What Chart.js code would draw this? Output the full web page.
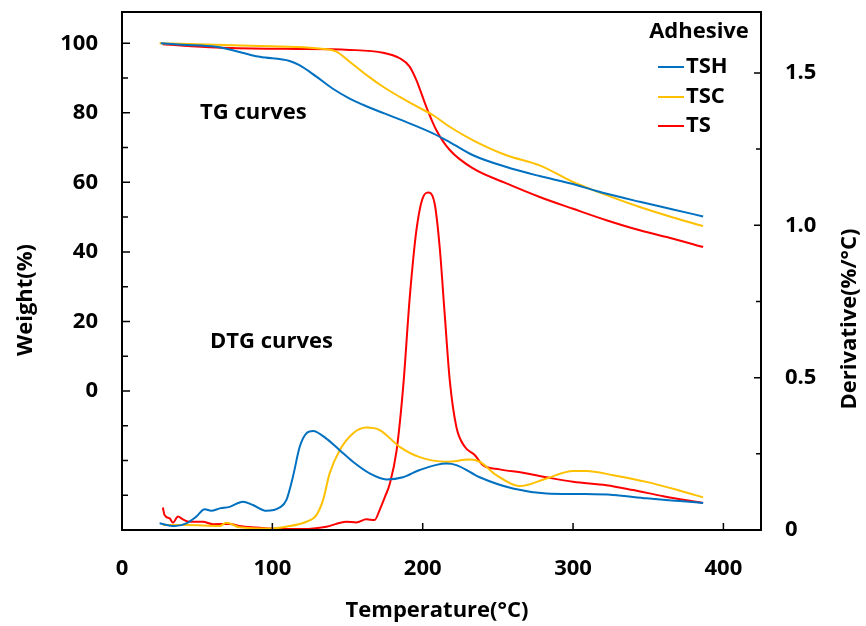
<!DOCTYPE html>
<html>
<head>
<meta charset="utf-8">
<script src="https://cdn.jsdelivr.net/npm/chart.js@4/dist/chart.umd.min.js"></script>
<style>
  html, body { margin: 0; padding: 0; background: #fff; }
  #wrap { width: 866px; height: 626px; position: relative; }
</style>
</head>
<body>
<div id="wrap"><canvas id="c" width="866" height="626"></canvas></div>
<script>
// ---------- DATA ----------
// TG curves: temperature (°C) and weight (%)
const tshTgT = [25.8, 40, 62.7, 91.7, 111.5, 118, 129.3, 140, 151.4, 162.5, 184.7, 206.8, 217.9, 233.5, 255.7, 277.8, 300, 315.6, 344.4, 366.5, 386.5];
const tshTgW = [100, 99.6, 99.0, 96.1, 94.9, 93.7, 90.4, 87.0, 84.1, 81.9, 78.1, 74.1, 71.6, 67.8, 64.4, 61.8, 59.5, 57.5, 54.4, 52.2, 50.2];

const tscTgT = [25, 85, 136, 142.6, 151.4, 162.5, 173.6, 184.7, 195.8, 206.9, 217.9, 233.5, 255.7, 277.8, 300, 315.6, 344.4, 366.5, 386.5];
const tscTgW = [100, 99.3, 98.3, 97.6, 94.7, 90.9, 87.5, 84.6, 81.9, 79.3, 76.0, 72.1, 67.8, 64.9, 60.1, 57.4, 52.9, 49.9, 47.4];

const tsTgT = [27, 62.7, 107, 151.4, 173.6, 184.7, 191.3, 195.8, 202.4, 209.1, 218, 233.5, 255.7, 277.8, 300, 322.2, 344.4, 366.5, 386.5];
const tsTgW = [99.7, 98.8, 98.4, 98.1, 97.3, 95.7, 93.3, 89.4, 81.7, 75.0, 69.3, 64.0, 59.7, 55.8, 52.4, 49.1, 46.2, 43.8, 41.4];

// DTG curves: temperature (°C) and derivative (%/°C)
const tshDtgT = [25, 35, 42.8, 49.4, 55, 59.4, 65, 71.6, 80.4, 87.1, 96, 104.9, 109.3, 113.7, 118.2, 122.6, 127, 135.9, 144.8, 153.6, 164.7, 175.8, 186.9, 198, 215.8, 222.4, 237.9, 260, 282.3, 304.5, 326.6, 348.8, 371, 386.5];
const tshDtgD = [0.022, 0.013, 0.022, 0.044, 0.068, 0.063, 0.071, 0.076, 0.093, 0.082, 0.063, 0.074, 0.098, 0.175, 0.273, 0.317, 0.325, 0.300, 0.262, 0.224, 0.186, 0.166, 0.173, 0.197, 0.218, 0.213, 0.173, 0.136, 0.120, 0.118, 0.115, 0.104, 0.095, 0.089];

const tscDtgT = [27.2, 42.8, 65, 69.4, 78.2, 98.2, 109.3, 122.6, 129.3, 133.7, 138.1, 144.8, 153.6, 162.5, 171.4, 184.7, 198, 215.8, 231.3, 237.9, 249, 264.5, 282.3, 300, 308.9, 326.6, 348.8, 371, 386.5];
const tscDtgD = [0.016, 0.016, 0.013, 0.024, 0.009, 0.005, 0.011, 0.027, 0.049, 0.098, 0.186, 0.262, 0.317, 0.336, 0.328, 0.273, 0.239, 0.224, 0.231, 0.224, 0.180, 0.144, 0.169, 0.194, 0.194, 0.180, 0.158, 0.129, 0.107];

const tsDtgT = [27.2, 28.3, 31.7, 33.9, 37.2, 40.5, 45, 53.8, 60.5, 71.6, 78.2, 98.2, 120.4, 136, 149.2, 155.9, 162.5, 168, 171.4, 175, 178, 182.6, 187, 191.4, 195.8, 200.2, 204.2, 208, 211.3, 214.6, 218, 222.4, 228, 234.6, 240.1, 251.2, 266.7, 282.3, 300, 322.2, 340, 360, 386.5];
const tsDtgD = [0.074, 0.049, 0.038, 0.024, 0.044, 0.035, 0.027, 0.027, 0.019, 0.020, 0.013, 0.005, 0.003, 0.011, 0.027, 0.025, 0.035, 0.033, 0.066, 0.110, 0.150, 0.260, 0.469, 0.764, 0.983, 1.092, 1.108, 1.070, 0.928, 0.710, 0.491, 0.338, 0.273, 0.246, 0.213, 0.199, 0.188, 0.173, 0.158, 0.147, 0.131, 0.111, 0.089];

const seriesNames = ['TSH', 'TSC', 'TS'];
const seriesColors = ['#0070C0', '#FFC000', '#FF0000'];
const xTickLabels = ['0', '100', '200', '300', '400'];
const weightTickLabels = ['0', '20', '40', '60', '80', '100'];
const derivTickLabels = ['0', '0.5', '1.0', '1.5'];

// ---------- BUILD ----------
const FONT = '"Open Sans", "Noto Sans", sans-serif';
const FSIZE = 22;
const pts = (xs, ys) => xs.map((x, i) => ({ x: x, y: ys[i] }));

function ds(label, data, color, axis) {
  return {
    label: label, data: data, yAxisID: axis,
    borderColor: color, backgroundColor: color,
    borderWidth: 2, pointRadius: 0, pointHoverRadius: 0,
    fill: false, tension: 0.4, cubicInterpolationMode: 'monotone'
  };
}

const datasets = [
  ds(seriesNames[0], pts(tshTgT, tshTgW), seriesColors[0], 'yW'),
  ds(seriesNames[1], pts(tscTgT, tscTgW), seriesColors[1], 'yW'),
  ds(seriesNames[2], pts(tsTgT, tsTgW), seriesColors[2], 'yW'),
  ds(seriesNames[0] + ' DTG', pts(tshDtgT, tshDtgD), seriesColors[0], 'yD'),
  ds(seriesNames[1] + ' DTG', pts(tscDtgT, tscDtgD), seriesColors[1], 'yD'),
  ds(seriesNames[2] + ' DTG', pts(tsDtgT, tsDtgD), seriesColors[2], 'yD')
];

function near(a, b) { return Math.abs(a - b) < 1e-6; }
function noPad(s) { s.paddingTop = 0; s.paddingBottom = 0; s.paddingLeft = 0; s.paddingRight = 0; }

const decorPlugin = {
  id: 'decor',
  afterDraw(chart) {
    const ctx = chart.ctx;
    const a = chart.chartArea;
    const sx = chart.scales.x, sw = chart.scales.yW, sd = chart.scales.yD;
    ctx.save();
    ctx.strokeStyle = '#000';
    ctx.lineWidth = 1.5;
    // inward tick marks
    ctx.beginPath();
    sw.ticks.forEach(t => {
      const y = sw.getPixelForValue(t.value);
      const len = t.label ? 8 : 6;
      ctx.moveTo(a.left, y); ctx.lineTo(a.left + len, y);
    });
    sd.ticks.forEach(t => {
      const y = sd.getPixelForValue(t.value);
      const len = t.label ? 7 : 5;
      ctx.moveTo(a.right, y); ctx.lineTo(a.right - len, y);
    });
    sx.ticks.forEach(t => {
      const x = sx.getPixelForValue(t.value);
      ctx.moveTo(x, a.bottom); ctx.lineTo(x, a.bottom - 7);
    });
    ctx.stroke();
    // frame
    ctx.lineWidth = 2;
    ctx.strokeRect(a.left, a.top, a.right - a.left, a.bottom - a.top);

    // texts
    ctx.fillStyle = '#000';
    ctx.font = 'bold ' + FSIZE + 'px ' + FONT;
    ctx.textBaseline = 'middle';
    ctx.textAlign = 'left';
    ctx.fillText('TG curves', 200, 113);
    ctx.fillText('DTG curves', 210, 342);

    // legend
    ctx.textAlign = 'center';
    ctx.fillText('Adhesive', 699, 32);
    ctx.textAlign = 'left';
    const ly = [67, 97, 126];
    seriesNames.forEach((n, i) => {
      ctx.strokeStyle = seriesColors[i];
      ctx.lineWidth = 2;
      ctx.beginPath();
      ctx.moveTo(658, ly[i]); ctx.lineTo(684, ly[i]);
      ctx.stroke();
      ctx.fillStyle = '#000';
      ctx.fillText(n, 686, ly[i]);
    });

    // axis titles
    ctx.textAlign = 'center';
    ctx.fillText('Temperature(°C)', 437, 611);
    ctx.save();
    ctx.translate(26, 300);
    ctx.rotate(-Math.PI / 2);
    ctx.fillText('Weight(%)', 0, 0);
    ctx.restore();
    ctx.save();
    ctx.translate(850, 319);
    ctx.rotate(-Math.PI / 2);
    ctx.fillText('Derivative(%/°C)', 0, 0);
    ctx.restore();
    ctx.restore();
  }
};

const tickFont = { family: FONT, size: FSIZE, weight: 'bold' };

new Chart(document.getElementById('c'), {
  type: 'line',
  data: { datasets: datasets },
  options: {
    responsive: false,
    animation: false,
    events: [],
    layout: { padding: { top: 12, left: 0, right: 0, bottom: 0 } },
    plugins: { legend: { display: false }, tooltip: { enabled: false }, title: { display: false } },
    scales: {
      x: {
        type: 'linear', position: 'bottom', min: 0, max: 425,
        grid: { display: false, drawTicks: false }, border: { display: false },
        ticks: {
          stepSize: 100, includeBounds: false, autoSkip: false, maxRotation: 0,
          padding: 26, color: '#000', font: tickFont,
          callback: (v) => { const s = String(v); return xTickLabels.includes(s) ? s : ''; }
        },
        afterFit: (s) => { s.height = 96; noPad(s); }
      },
      yW: {
        type: 'linear', position: 'left', min: -40, max: 109,
        grid: { display: false, drawTicks: false }, border: { display: false },
        ticks: {
          stepSize: 10, includeBounds: false, autoSkip: false,
          padding: 24, color: '#000', font: tickFont,
          callback: (v) => { const s = String(Math.round(v)); return (v >= 0 && weightTickLabels.includes(s) && near(v, Math.round(v))) ? s : ''; }
        },
        afterFit: (s) => { s.width = 122; noPad(s); }
      },
      yD: {
        type: 'linear', position: 'right', min: 0, max: 1.7,
        grid: { display: false, drawTicks: false }, border: { display: false },
        ticks: {
          stepSize: 0.25, includeBounds: false, autoSkip: false,
          padding: 24, color: '#000', font: tickFont,
          callback: (v) => {
            if (!near(v * 2, Math.round(v * 2))) return '';
            const s = near(v, 0) ? '0' : v.toFixed(1);
            return derivTickLabels.includes(s) ? s : '';
          }
        },
        afterFit: (s) => { s.width = 105; noPad(s); }
      }
    }
  },
  plugins: [decorPlugin]
});
</script>
</body>
</html>
